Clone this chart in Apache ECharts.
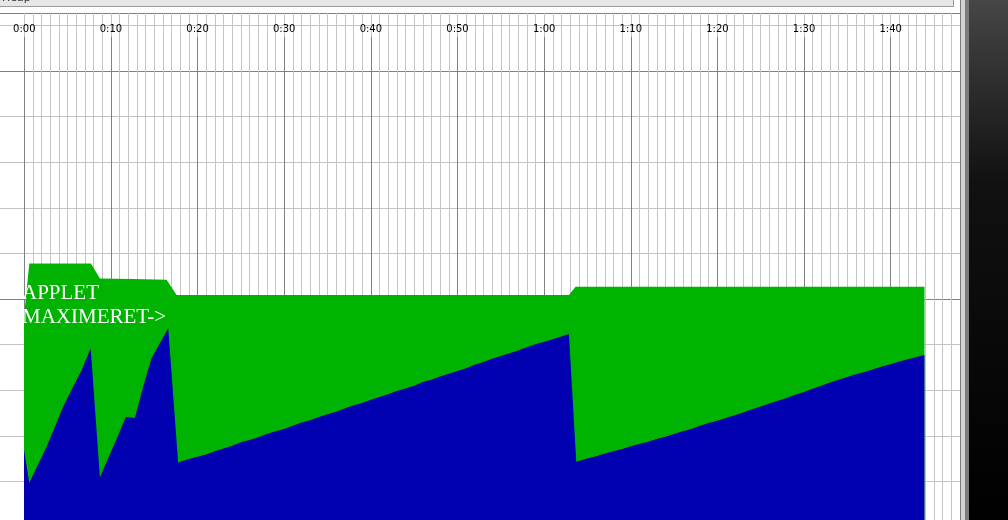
<!DOCTYPE html>
<html>
<head>
<meta charset="utf-8">
<script src="https://cdn.jsdelivr.net/npm/echarts@6/dist/echarts.min.js"></script>
<style>
html,body{margin:0;padding:0;background:#fff;}
#c{width:1008px;height:520px;}
</style>
</head>
<body>
<div id="c"></div>
<script>
// time in minutes, values in heap units (one grid row = 1)
const totalTimes  = [-0.25, 0.58, 7.69, 8.73, 12.54, 16.42, 17.58, 62.86, 63.63, 103.9];
const totalValues = [4.21, 5.78, 5.78, 5.45, 5.44, 5.42, 5.09, 5.09, 5.27, 5.27];

const usedTimes = [-0.25, 0.58, 2.58, 3.54, 4.50, 5.65, 6.62, 7.66, 8.73, 10.27, 11.73, 12.77, 13.73, 14.69, 15.65, 16.61,
  17.76, 18, 19, 20, 21, 22, 23, 24, 25, 26, 27, 28, 29, 30, 31, 32, 33, 34, 35, 36, 37, 38, 39, 40,
  41, 42, 43, 44, 45, 46, 47, 48, 49, 50, 51, 52, 53, 54, 55, 56, 57, 58, 59, 60, 61, 62, 62.86,
  63.71, 64, 65, 66, 67, 68, 69, 70, 71, 72, 73, 74, 75, 76, 77, 78, 79, 80, 81, 82, 83, 84, 85,
  86, 87, 88, 89, 90, 91, 92, 93, 94, 95, 96, 97, 98, 99, 100, 101, 102, 103, 103.9];
const usedValues = [1.95, 0.97, 1.76, 2.20, 2.64, 3.08, 3.44, 3.92, 1.09, 1.76, 2.41, 2.39, 3.08, 3.70, 4.03, 4.36,
  1.41, 1.43, 1.49, 1.54, 1.59, 1.66, 1.72, 1.78, 1.86, 1.91, 1.97, 2.04, 2.10, 2.15, 2.22, 2.29, 2.34, 2.41, 2.47, 2.53, 2.60, 2.67, 2.72, 2.79,
  2.85, 2.91, 2.98, 3.04, 3.10, 3.18, 3.23, 3.30, 3.36, 3.42, 3.48, 3.56, 3.62, 3.69, 3.75, 3.81, 3.87, 3.94, 4.01, 4.06, 4.12, 4.18, 4.23,
  1.43, 1.45, 1.50, 1.55, 1.61, 1.66, 1.71, 1.77, 1.82, 1.87, 1.93, 1.98, 2.04, 2.10, 2.15, 2.22, 2.28, 2.33, 2.39, 2.45, 2.51, 2.58, 2.64,
  2.71, 2.77, 2.83, 2.90, 2.96, 3.03, 3.10, 3.17, 3.23, 3.29, 3.35, 3.40, 3.46, 3.52, 3.57, 3.63, 3.68, 3.73, 3.77];

const xMin = 0, xMax = 108;
const yMin = 0, yMax = 11.272;
const labelText = 'APPLET\nMAXIMERET->';

const totalData = totalTimes.map((t, i) => [t, totalValues[i]]);
const usedData = usedTimes.map((t, i) => [t, usedValues[i]]);

function fmt(v) {
  if (Math.abs(v % 10) > 1e-6) return '';
  const h = Math.floor(v / 60), m = Math.round(v % 60);
  return h + ':' + (m < 10 ? '0' : '') + m;
}

const chart = echarts.init(document.getElementById('c'), null, {renderer: 'canvas'});
const hidden = {show: false};
const opt = {
  animation: false,
  backgroundColor: '#ffffff',
  grid: [
    {left: 0, width: 960, top: 13, height: 514, outerBoundsMode: 'none', containLabel: false},
    {left: 24.3, width: 935.7, top: 13, height: 514, outerBoundsMode: 'none', containLabel: false},
    {left: 24.3, width: 935.7, top: 37, height: 490, outerBoundsMode: 'none', containLabel: false}
  ],
  xAxis: [
    {gridIndex: 0, type: 'value', min: xMin, max: xMax, show: false},
    {gridIndex: 1, type: 'value', position: 'top', min: xMin, max: xMax, interval: 1,
      axisLine: {show: false},
      axisTick: {show: true, inside: true, length: 6, lineStyle: {color: '#000', width: 1}},
      axisLabel: {show: true, inside: true, margin: 11, formatter: fmt, color: '#000',
        fontFamily: 'DejaVu Sans', fontSize: 10, verticalAlign: 'top'},
      splitLine: {show: true, lineStyle: {color: '#c4c4c4', width: 1}}
    },
    {gridIndex: 2, type: 'value', min: xMin, max: xMax, interval: 10,
      axisLine: hidden, axisTick: hidden, axisLabel: hidden,
      splitLine: {show: true, lineStyle: {color: '#808080', width: 1}}
    }
  ],
  yAxis: [
    {gridIndex: 0, type: 'value', min: yMin, max: yMax, interval: 1,
      axisLine: hidden, axisTick: hidden, axisLabel: hidden,
      splitLine: {show: true, lineStyle: {color: '#c4c4c4', width: 1}}},
    {gridIndex: 0, type: 'value', min: yMin, max: yMax, interval: 5,
      axisLine: hidden, axisTick: hidden, axisLabel: hidden,
      splitLine: {show: true, lineStyle: {color: '#808080', width: 1}}},
    {gridIndex: 1, type: 'value', min: yMin, max: yMax, show: false, splitLine: hidden},
    {gridIndex: 2, type: 'value', min: yMin, max: yMax, show: false, splitLine: hidden}
  ],
  series: [
    {type: 'line', name: 'total', xAxisIndex: 1, yAxisIndex: 2, data: totalData,
      showSymbol: false, symbol: 'none', clip: false, z: 5,
      lineStyle: {width: 0}, areaStyle: {color: '#00b300', opacity: 1, origin: 'start'}},
    {type: 'line', name: 'used', xAxisIndex: 1, yAxisIndex: 2, data: usedData,
      showSymbol: false, symbol: 'none', clip: false, z: 6,
      lineStyle: {width: 0}, areaStyle: {color: '#0000b0', opacity: 1, origin: 'start'}}
  ],
  graphic: [
    {type: 'rect', z: 100, shape: {x: 0, y: 0, width: 954, height: 6}, style: {fill: '#e6e6e6'}},
    {type: 'text', z: 101, left: 2, top: -7, style: {text: 'Heap', fill: '#333', font: '11px "DejaVu Sans"'}},
    {type: 'rect', z: 100, shape: {x: 0, y: 6, width: 954, height: 1}, style: {fill: '#9a9a9a'}},
    {type: 'rect', z: 100, shape: {x: 953, y: 0, width: 1, height: 6}, style: {fill: '#9a9a9a'}},
    {type: 'rect', z: 100, shape: {x: 960, y: 0, width: 1, height: 520}, style: {fill: '#7a7a7a'}},
    {type: 'rect', z: 100, shape: {x: 961, y: 0, width: 4, height: 520}, style: {fill: '#d2d2d2'}},
    {type: 'rect', z: 100, shape: {x: 965, y: 0, width: 4, height: 520}, style: {fill: '#7c7c7c'}},
    {type: 'rect', z: 100, shape: {x: 969, y: 0, width: 39, height: 520},
      style: {fill: new echarts.graphic.LinearGradient(0, 0, 0, 1, [
        {offset: 0, color: '#464646'}, {offset: 0.35, color: '#111111'}, {offset: 1, color: '#000000'}])}},
    {type: 'text', z: 50, left: 22, top: 282,
      style: {text: labelText, fill: '#ffffff', font: '21px "Liberation Serif"', lineHeight: 23.5}}
  ]
};
chart.setOption(opt);
</script>
</body>
</html>
